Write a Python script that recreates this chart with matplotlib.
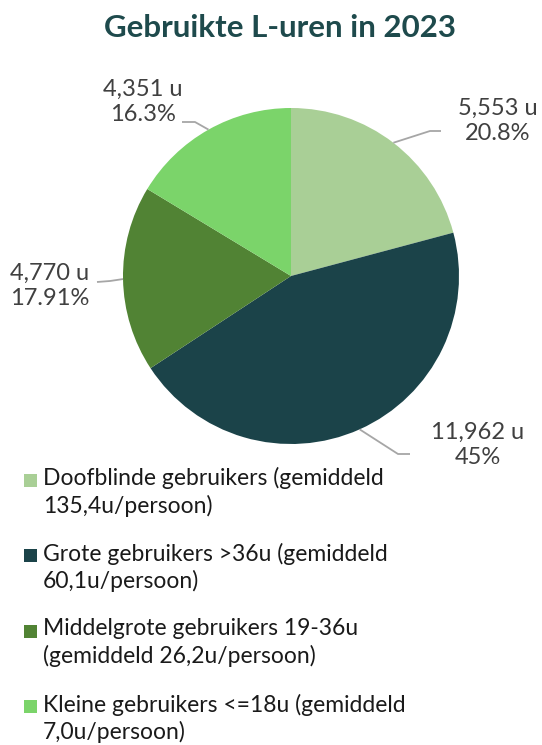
import numpy as np
import matplotlib
matplotlib.use("Agg")
import matplotlib.pyplot as plt
from matplotlib.patches import Rectangle

plt.rcParams['font.family'] = ['Lato', 'DejaVu Sans']

title = "Gebruikte L-uren in 2023"
categories = [
    "Doofblinde gebruikers (gemiddeld\n135,4u/persoon)",
    "Grote gebruikers >36u (gemiddeld\n60,1u/persoon)",
    "Middelgrote gebruikers 19-36u\n(gemiddeld 26,2u/persoon)",
    "Kleine gebruikers <=18u (gemiddeld\n7,0u/persoon)",
]
hours = [5553, 11962, 4770, 4351]
hour_labels = ["5,553 u", "11,962 u", "4,770 u", "4,351 u"]
pct_labels = ["20.8%", "45%", "17.91%", "16.3%"]
colors = ["#a9cf96", "#1b4349", "#518334", "#7bd46a"]

W, H = 542, 745
fig = plt.figure(figsize=(W / 100, H / 100), dpi=100)
ax = fig.add_axes([0, 0, 1, 1])

cx, cy, r = 291, 276, 168
# pixel coords with inverted y -> counterclock=True draws visually clockwise from top
wedges, _ = ax.pie(hours, colors=colors, startangle=-90, counterclock=True,
                   center=(cx, cy), radius=r, frame=True,
                   wedgeprops=dict(linewidth=0))
ax.set_xlim(0, W)
ax.set_ylim(H, 0)
ax.set_aspect('equal')
ax.axis('off')

layout = [
    dict(elbow=(430, 131), end=(441, 131), tx=498, ty=121, ha='center'),
    dict(elbow=(398, 454), end=(410, 454), tx=478, ty=445, ha='center'),
    dict(elbow=(110, 281), end=(97, 282), tx=10, ty=286, ha='left'),
    dict(elbow=(195, 122), end=(182, 122), tx=143, ty=102, ha='center'),
]
for w, hl, pl, L in zip(wedges, hour_labels, pct_labels, layout):
    mid = np.deg2rad((w.theta1 + w.theta2) / 2)
    ex, ey = w.center[0] + w.r * np.cos(mid), w.center[1] + w.r * np.sin(mid)
    xs = [ex, L['elbow'][0], L['end'][0]]
    ys = [ey, L['elbow'][1], L['end'][1]]
    ax.plot(xs, ys, color="#a6a6a6", lw=1.3, solid_capstyle='butt')
    ax.text(L['tx'], L['ty'], hl + "\n" + pl, ha=L['ha'], va='center',
            fontsize=17, color="#404040", linespacing=1.2)

ax.text(280, 28, title, ha='center', va='center', fontsize=22.5,
        fontweight='bold', color="#1e4a4c")

for i, (cat, col) in enumerate(zip(categories, colors)):
    y0 = 480 + i * 75.5
    ax.add_patch(Rectangle((24, y0 - 6.5), 13, 13, facecolor=col, edgecolor='none'))
    ax.text(43, y0 - 13, cat, ha='left', va='top', fontsize=16.5,
            color="#1a1a1a", linespacing=1.32)

fig.savefig("out.png", dpi=100)
